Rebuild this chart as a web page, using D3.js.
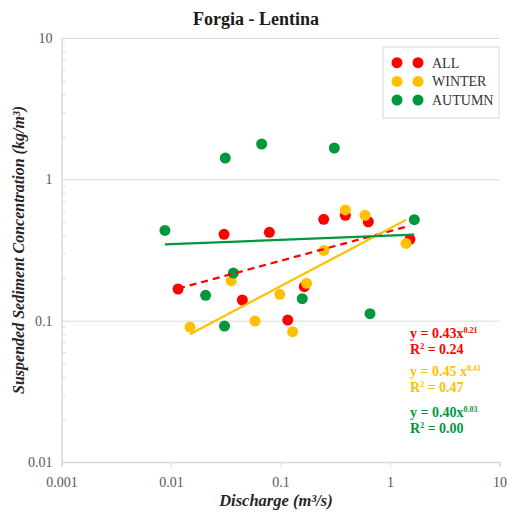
<!DOCTYPE html>
<html>
<head>
<meta charset="utf-8">
<script src="https://cdn.jsdelivr.net/npm/d3@7"></script>
<style>
  html, body { margin: 0; padding: 0; background: #fff; }
  svg { display: block; }
  text { font-family: "Liberation Serif", "Times New Roman", serif; }
</style>
</head>
<body>
<svg id="chart" width="507" height="516"></svg>
<script>
// Discharge (m³/s) and suspended sediment concentration (kg/m³) samples
const allQ    = [0.0116, 0.0305, 0.0791, 0.0448, 0.1165, 0.165, 0.248, 0.391, 0.634, 1.52];
const allC    = [0.1675, 0.408, 0.422, 0.140, 0.101, 0.174, 0.521, 0.556, 0.501, 0.376];
const winterQ = [0.0149, 0.0355, 0.0585, 0.0985, 0.129, 0.173, 0.249, 0.391, 0.592, 1.40];
const winterC = [0.0901, 0.1916, 0.0993, 0.1535, 0.0835, 0.1836, 0.314, 0.607, 0.556, 0.352];
const autumnQ = [0.0088, 0.0313, 0.0673, 0.310, 0.0371, 0.0207, 0.0308, 0.158, 0.657, 1.667];
const autumnC = [0.435, 1.415, 1.778, 1.665, 0.217, 0.151, 0.0916, 0.143, 0.112, 0.518];

// Power-law rating curves y = a·x^b
const seriesNames = ["ALL", "WINTER", "AUTUMN"];
const fitA  = [0.43, 0.45, 0.40];
const fitB  = [0.21, 0.41, 0.03];
const fitR2 = ["0.24", "0.47", "0.00"];

const xTickValues = [0.001, 0.01, 0.1, 1, 10];
const xTickLabels = ["0.001", "0.01", "0.1", "1", "10"];
const yTickValues = [0.01, 0.1, 1, 10];
const yTickLabels = ["0.01", "0.1", "1", "10"];

const colors = ["#ff0000", "#ffc000", "#00983c"];
const series = [
  { name: seriesNames[0], q: allQ,    c: allC,    a: fitA[0], b: fitB[0], r2: fitR2[0], color: colors[0], dash: "7,5" },
  { name: seriesNames[1], q: winterQ, c: winterC, a: fitA[1], b: fitB[1], r2: fitR2[1], color: colors[1], dash: null },
  { name: seriesNames[2], q: autumnQ, c: autumnC, a: fitA[2], b: fitB[2], r2: fitR2[2], color: colors[2], dash: null }
];

const svg = d3.select("#chart");
const plotL = 61.5, plotR = 499.5, plotT = 38, plotB = 462;

const x = d3.scaleLog().domain([0.001, 10]).range([plotL, plotR]);
const y = d3.scaleLog().domain([0.01, 10]).range([plotB, plotT]);

const axisColor = "#d9d9d9";
const labelColor = "#595959";

// Horizontal gridlines at each decade
svg.append("g")
  .attr("transform", `translate(${plotL},0)`)
  .call(d3.axisRight(y).tickValues(yTickValues).tickSize(plotR - plotL).tickFormat(""))
  .call(g => g.select(".domain").remove())
  .call(g => g.selectAll("line").attr("stroke", axisColor).attr("stroke-width", 1));

// Minor ticks on the concentration axis
const yMinor = [];
for (let d = 0.01; d < 10; d *= 10) for (let k = 2; k <= 9; k++) yMinor.push(+(d * k).toPrecision(3));
svg.append("g")
  .attr("transform", `translate(${plotL},0)`)
  .call(d3.axisRight(y).tickValues(yMinor).tickSize(4).tickFormat(""))
  .call(g => g.select(".domain").remove())
  .call(g => g.selectAll("line").attr("stroke", axisColor));

// Concentration axis line and labels
svg.append("g")
  .attr("transform", `translate(${plotL},0)`)
  .call(d3.axisLeft(y).tickValues(yTickValues).tickSize(0).tickPadding(9)
    .tickFormat((d, i) => yTickLabels[i]))
  .call(g => g.select(".domain").attr("stroke", axisColor).attr("stroke-width", 1.5))
  .call(g => g.selectAll("text").attr("fill", labelColor)
    .style("font-family", "'Liberation Serif', serif").style("font-size", "14px"));

// Discharge axis
svg.append("g")
  .attr("transform", `translate(0,${plotB})`)
  .call(d3.axisBottom(x).tickValues(xTickValues).tickSize(5).tickPadding(10)
    .tickFormat((d, i) => xTickLabels[i]))
  .call(g => g.select(".domain").attr("stroke", axisColor).attr("stroke-width", 1.5))
  .call(g => g.selectAll("line").attr("stroke", axisColor))
  .call(g => g.selectAll("text").attr("fill", labelColor)
    .style("font-family", "'Liberation Serif', serif").style("font-size", "14px"));

// Sample points
series.forEach(s => {
  svg.append("g").selectAll("circle")
    .data(s.q.map((q, i) => [q, s.c[i]]))
    .join("circle")
    .attr("cx", d => x(d[0]))
    .attr("cy", d => y(d[1]))
    .attr("r", 5.5)
    .attr("fill", s.color);
});

// Trendlines across each series' discharge range
const line = d3.line().x(d => x(d[0])).y(d => y(d[1]));
series.forEach(s => {
  const [q0, q1] = d3.extent(s.q);
  const pts = [q0, q1].map(q => [q, s.a * Math.pow(q, s.b)]);
  svg.append("path")
    .attr("d", line(pts))
    .attr("fill", "none")
    .attr("stroke", s.color)
    .attr("stroke-width", 2.25)
    .attr("stroke-dasharray", s.dash);
});

// Title
svg.append("text")
  .attr("x", 256).attr("y", 25)
  .attr("text-anchor", "middle")
  .style("font-size", "18px").style("font-weight", "bold")
  .attr("fill", "#1a1a1a")
  .text("Forgia - Lentina");

// Axis titles
svg.append("text")
  .attr("x", 276).attr("y", 506)
  .attr("text-anchor", "middle")
  .style("font-size", "16.5px").style("font-weight", "bold").style("font-style", "italic")
  .attr("fill", "#262626")
  .text("Discharge (m³/s)");

svg.append("text")
  .attr("transform", "translate(24,250) rotate(-90)")
  .attr("text-anchor", "middle")
  .style("font-size", "16px").style("font-weight", "bold").style("font-style", "italic")
  .attr("fill", "#262626")
  .text("Suspended Sediment Concentration (kg/m³)");

// Legend
const legend = svg.append("g");
legend.append("rect")
  .attr("x", 383).attr("y", 47).attr("width", 116).attr("height", 71)
  .attr("fill", "#fff").attr("stroke", axisColor);
series.forEach((s, i) => {
  const cy = 62.7 + i * 18.7;
  [397, 418].forEach(cx => legend.append("circle")
    .attr("cx", cx).attr("cy", cy).attr("r", 5.5).attr("fill", s.color));
  legend.append("text")
    .attr("x", 432).attr("y", cy + 4.8)
    .style("font-size", "14px").attr("fill", "#333")
    .text(s.name);
});

// Fitted equations
const eqY = [338, 376, 417];
series.forEach((s, i) => {
  const g = svg.append("g").attr("fill", s.color)
    .style("font-weight", "bold").style("font-size", "14px");
  const t1 = g.append("text").attr("x", 410).attr("y", eqY[i]);
  t1.append("tspan").text(`y = ${s.a.toFixed(2)}` + (i === 1 ? " x" : "x"));
  t1.append("tspan").attr("dy", -5).style("font-size", "8px").text(s.b.toFixed(2));
  const t2 = g.append("text").attr("x", 410).attr("y", eqY[i] + 16);
  t2.append("tspan").text("R");
  t2.append("tspan").attr("dy", -5).style("font-size", "8px").text("2");
  t2.append("tspan").attr("dy", 5).text(" = " + s.r2);
});
</script>
</body>
</html>
